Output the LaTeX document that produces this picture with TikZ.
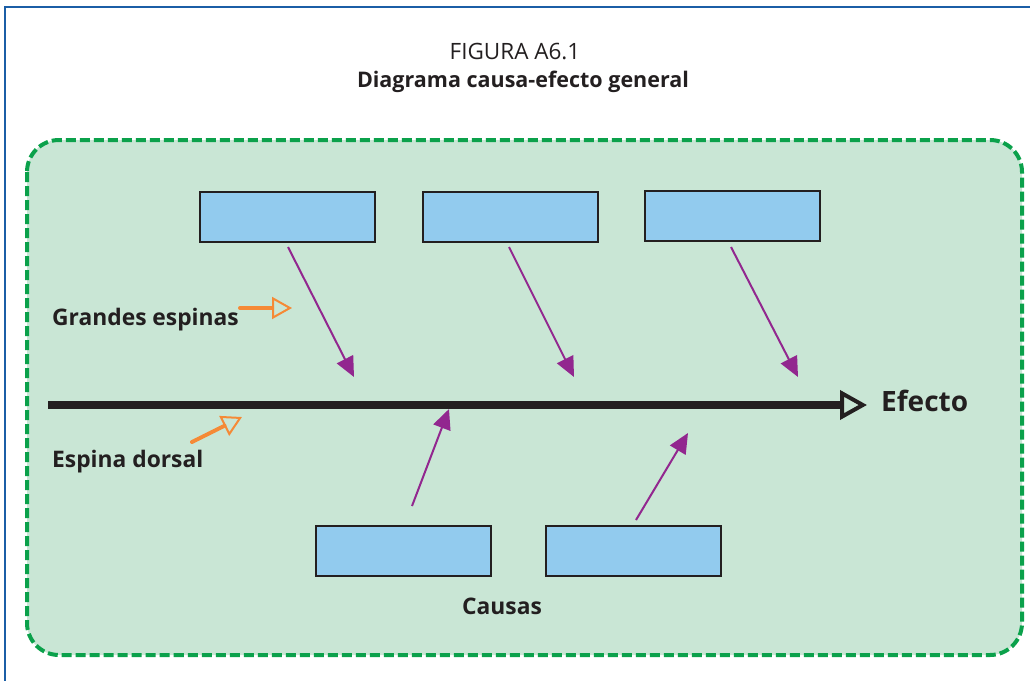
\documentclass[tikz,border=0pt]{standalone}
\usepackage{fontspec}
\setmainfont{Open Sans}
\usetikzlibrary{arrows.meta,calc}
\definecolor{framebl}{HTML}{1B5EA6}
\definecolor{panelgr}{HTML}{C9E6D5}
\definecolor{dashgr}{HTML}{0BA14B}
\definecolor{boxbl}{HTML}{92CBEE}
\definecolor{bonepu}{HTML}{92278F}
\definecolor{noteor}{HTML}{F58A36}
\definecolor{inkdk}{HTML}{231F20}
\tikzset{
  causebox/.style={draw=inkdk, fill=boxbl, line width=2pt, minimum width=175pt,
    minimum height=50pt, inner sep=0pt},
  bone/.style={bonepu, line width=2pt, -{Triangle[length=20pt,width=18pt]}},
  pointer/.style={noteor, line width=4pt, dash pattern=on 2pt off 1pt, line cap=round,
    -{Triangle[open,length=20pt,width=22pt,line width=2pt]}},
  tag/.style={font=\bfseries\fontsize{22.8}{27}\selectfont, text=inkdk, inner sep=0pt}
}
\begin{document}
\begin{tikzpicture}[x=1pt,y=-1pt]
\useasboundingbox (0,0) rectangle (1030,680);
\clip (0,0) rectangle (1030,680);
% page frame
\draw[framebl, line width=2pt] (5,7) rectangle (1045,695);
% title
\node[font=\fontsize{22.5}{26}\selectfont, text=inkdk] (fig) at (515,52) {FIGURA A6.1};
\node[font=\bfseries\fontsize{21.5}{25}\selectfont, text=inkdk] (ttl) at (523,82) {Diagrama causa-efecto general};
% panel
\draw[dashgr, fill=panelgr, line width=4pt, dash pattern=on 10pt off 4pt, rounded corners=32pt]
  (27,140) rectangle (1022,655);
% cause boxes
\node[causebox] (b1) at (287.5,217) {};
\node[causebox] (b2) at (510,217) {};
\node[causebox] (b3) at (732.5,216) {};
\node[causebox] (b4) at (403,550.5) {};
\node[causebox] (b5) at (633,550.5) {};
% backbone
\coordinate (tail) at (48,405);
\node[font=\bfseries\fontsize{28}{32}\selectfont, text=inkdk, anchor=west, inner sep=0pt] (eff) at (881,401) {Efecto};
\coordinate (head) at (867,405);
\draw[inkdk, line width=8pt, -{Triangle[open,length=27pt,width=29pt,line width=4pt]}] (tail) -- (head);
% bones
\coordinate (e1) at (354,377);
\coordinate (e2) at (574,377);
\coordinate (e3) at (798,377);
\coordinate (e4) at (449,409);
\coordinate (e5) at (688,433);
\coordinate (s4) at (412,506);
\coordinate (s5) at (636,520);
\draw[bone] ($(b1.south)+(0.5,4)$) -- (e1);
\draw[bone] ($(b2.south)+(-1,4)$) -- (e2);
\draw[bone] ($(b3.south)+(-1.5,5)$) -- (e3);
\draw[bone] (s4) -- (e4);
\draw[bone] (s5) -- (e5);
% labels
\node[tag, anchor=west] (ge) at (52,320) {Grandes espinas};
\node[tag, anchor=west] (ed) at (52,462) {Espina dorsal};
\node[tag] (ca) at (502,606) {Causas};
\coordinate (ge1) at (240,308);
\coordinate (ge2) at (292,308);
\coordinate (ed1) at (192,442);
\coordinate (ed2) at (242,417);
\draw[pointer] (ge1) -- (ge2);
\draw[pointer] (ed1) -- (ed2);
\end{tikzpicture}
\end{document}
